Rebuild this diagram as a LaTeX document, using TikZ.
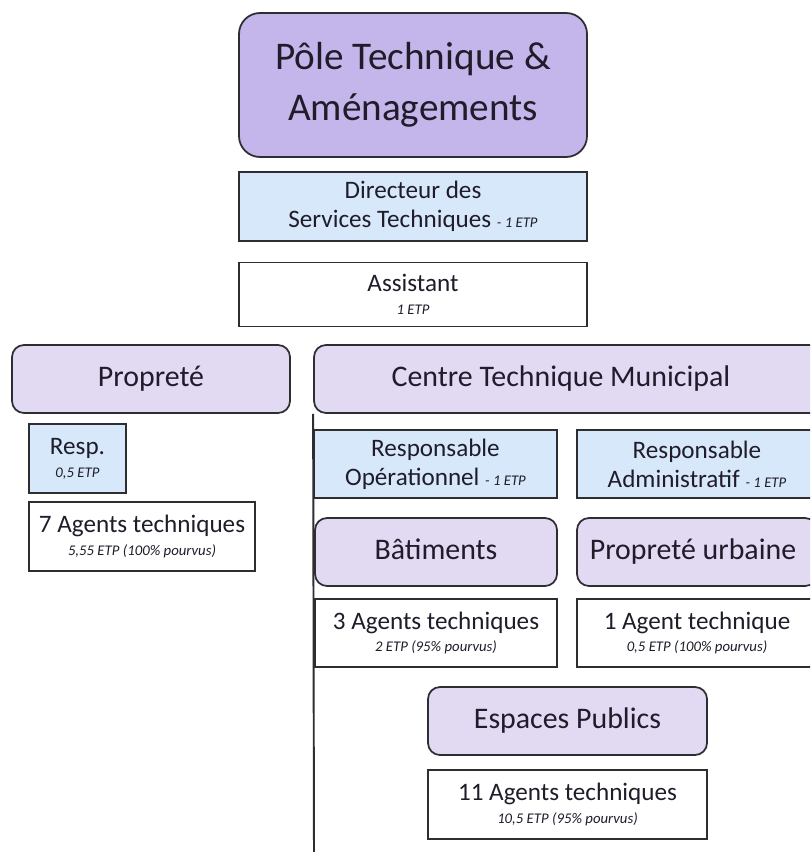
\documentclass[tikz,border=0pt]{standalone}
\usepackage{fontspec}
\setmainfont{Carlito}
\usepackage{xcolor}
\usepackage{tikz}
\usetikzlibrary{arrows.meta, positioning, shapes, fit, calc}

\definecolor{polecol}{RGB}{196,181,234}
\definecolor{seccol}{RGB}{226,217,243}
\definecolor{chiefcol}{RGB}{214,232,249}
\definecolor{inkcol}{RGB}{32,28,42}
\definecolor{edgecol}{RGB}{45,45,50}
\newcommand{\etp}[1]{{\fontsize{8.4}{9}\selectfont\itshape #1}}

\begin{document}
\begin{tikzpicture}[node distance=0.26cm, auto,
    every node/.style={text=inkcol, align=center, draw=edgecol, line width=1pt},
    pole/.style={fill=polecol, rounded corners=0.42cm, font=\fontsize{22.3}{29}\selectfont},
    section/.style={fill=seccol, rounded corners=0.24cm, text height=2.4ex, text depth=0.6ex, font=\fontsize{17}{20}\selectfont},
    chief/.style={fill=chiefcol, font=\fontsize{14.3}{16.5}\selectfont},
    staff/.style={fill=white, font=\fontsize{14.3}{13}\selectfont}]
    \useasboundingbox (0,0) rectangle (16.2,-17.04);
    \clip (0,0) rectangle (16.2,-17.04);

    % Nodes
    \node (pole) [pole, minimum width=6.96cm, minimum height=2.88cm] at (8.26,-1.7) {Pôle Technique \&\\Aménagements};
    \node (dir) [chief, below=of pole, minimum width=6.96cm, minimum height=1.38cm] {Directeur des\\Services Techniques \etp{- 1 ETP}};
    \node (asst) [staff, below=0.4cm of dir, minimum width=6.96cm, minimum height=1.28cm] {Assistant\\\etp{1 ETP}};

    % Propreté
    \node (prop) [section, minimum width=5.56cm, minimum height=1.36cm] at (3.02,-7.58) {Propreté};
    \node (resp) [chief, font=\fontsize{14.3}{13}\selectfont, minimum width=1.94cm, minimum height=1.38cm] at (1.55,-9.17) {Resp.\\\etp{0,5 ETP}};
    \node (propag) [staff, minimum width=4.52cm, minimum height=1.38cm] at (2.84,-10.73) {7 Agents techniques\\\etp{5,55 ETP (100\% pourvus)}};

    % Centre Technique Municipal
    \node (ctm) [section, minimum width=10.32cm, minimum height=1.36cm] at (11.44,-7.58) {\hspace*{-0.44cm}Centre Technique Municipal};
    \node (respop) [chief, minimum width=4.86cm, minimum height=1.36cm] at (8.71,-9.28) {Responsable\\Opérationnel \etp{- 1 ETP}};
    \node (respadm) [chief, minimum width=4.8cm, minimum height=1.36cm] at (13.94,-9.28) {Responsable\\Administratif \etp{- 1 ETP}};
    \node (bat) [section, minimum width=4.84cm, minimum height=1.36cm] at (8.72,-11.04) {Bâtiments};
    \node (propu) [section, minimum width=4.8cm, minimum height=1.36cm] at (13.94,-11.04) {\hspace*{-0.16cm}Propreté urbaine};
    \node (batag) [staff, minimum width=4.84cm, minimum height=1.36cm] at (8.72,-12.66) {3 Agents techniques\\\etp{2 ETP (95\% pourvus)}};
    \node (propuag) [staff, minimum width=4.8cm, minimum height=1.36cm] at (13.94,-12.66) {1 Agent technique\\\etp{0,5 ETP (100\% pourvus)}};
    \node (esp) [section, minimum width=5.58cm, minimum height=1.36cm] at (11.35,-14.42) {Espaces Publics};
    \node (espag) [staff, below=of esp, minimum width=5.58cm, minimum height=1.38cm] {11 Agents techniques\\\etp{10,5 ETP (95\% pourvus)}};

    % Line
    \coordinate (ctmend) at (6.28,-17.2);
    \draw[edgecol, line width=1.1pt] (ctm.south west) -- (ctmend);
\end{tikzpicture}
\end{document}
